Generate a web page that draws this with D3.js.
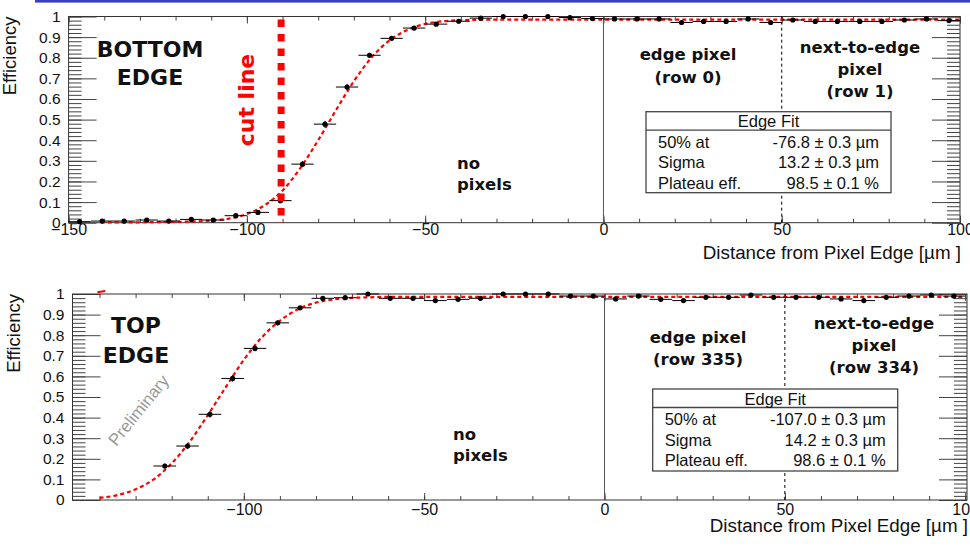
<!DOCTYPE html>
<html>
<head>
<meta charset="utf-8">
<script src="https://cdn.jsdelivr.net/npm/d3@7"></script>
<style>
  body { margin: 0; background: #fff; }
  svg { display: block; }
  text { font-family: "Liberation Sans", Arial, sans-serif; }
  .bold { font-family: "DejaVu Sans", Verdana, sans-serif; font-weight: bold; }
</style>
</head>
<body>
<div id="graph"></div>
<script>
// bin centres (6.25 um bins)
const bins = [-146.9, -140.6, -134.4, -128.1, -121.9, -115.6, -109.4, -103.1, -96.9, -90.6,
  -84.4, -78.1, -71.9, -65.6, -59.4, -53.1, -46.9, -40.6, -34.4, -28.1,
  -21.9, -15.6, -9.4, -3.1, 3.1, 9.4, 15.6, 21.9, 28.1, 34.4,
  40.6, 46.9, 53.1, 59.4, 65.6, 71.9, 78.1, 84.4, 90.6, 96.9];
const binHalf = 3.125;

// bottom edge measurement
const effBottom = [0.005, 0.008, 0.008, 0.013, 0.008, 0.016, 0.013, 0.034, 0.05, 0.107,
  0.284, 0.478, 0.658, 0.812, 0.894, 0.944, 0.963, 0.977, 0.992, 1.0,
  1.0, 1.0, 0.995, 0.99, 0.988, 0.988, 0.988, 0.971, 0.976, 0.976,
  0.988, 0.971, 0.983, 0.976, 0.976, 0.976, 0.976, 0.983, 0.988, 0.98];
const errBottom = [0.004, 0.004, 0.004, 0.004, 0.004, 0.004, 0.004, 0.005, 0.006, 0.01,
  0.015, 0.016, 0.015, 0.012, 0.01, 0.008, 0.006, 0.005, 0.003, 0.003,
  0.003, 0.003, 0.003, 0.003, 0.003, 0.003, 0.003, 0.003, 0.003, 0.003,
  0.003, 0.003, 0.003, 0.003, 0.003, 0.003, 0.003, 0.003, 0.003, 0.003];
const fitBottomX = [-141, -135, -130, -125, -120, -115, -110, -105, -100, -95, -90, -85, -80, -75, -70, -65, -60, -55, -50, -45, -40, -35, -30, -20, 0, 50, 100];
const fitBottomY = [0.002, 0.002, 0.002, 0.003, 0.004, 0.006, 0.011, 0.02, 0.042, 0.085, 0.156, 0.265, 0.4, 0.546, 0.686, 0.802, 0.884, 0.935, 0.964, 0.977, 0.982, 0.984, 0.985, 0.985, 0.985, 0.985, 0.985];

// top edge measurement (starts at bin -121.9)
const binsTop = bins.slice(4);
const effTop = [0.165, 0.262, 0.416, 0.59, 0.736, 0.86, 0.933, 0.979, 0.982, 1.0,
  0.979, 0.979, 0.968, 0.974, 0.979, 1.0, 1.0, 1.0, 0.99, 0.99,
  0.976, 0.99, 0.974, 0.968, 0.984, 0.984, 0.995, 0.984, 0.984, 0.984,
  0.976, 0.968, 0.984, 0.99, 0.995, 0.99];
const errTop = [0.012, 0.014, 0.016, 0.016, 0.014, 0.011, 0.008, 0.005, 0.003, 0.003,
  0.003, 0.003, 0.003, 0.003, 0.003, 0.003, 0.003, 0.003, 0.003, 0.003,
  0.003, 0.003, 0.003, 0.003, 0.003, 0.003, 0.003, 0.003, 0.003, 0.003,
  0.003, 0.003, 0.003, 0.003, 0.003, 0.003];
const fitTopX = [-140, -135, -130, -125, -120, -115, -110, -105, -100, -95, -90, -85, -80, -75, -70, -65, -60, -50, 0, 50, 100];
const fitTopY = [0.01, 0.024, 0.052, 0.1, 0.178, 0.283, 0.412, 0.548, 0.68, 0.79, 0.87, 0.926, 0.958, 0.974, 0.981, 0.984, 0.986, 0.986, 0.986, 0.986, 0.986];
const fitTopStubX = [-140.6, -138.4];
const fitTopStubY = [1.008, 1.015];

const fitLabels = ["50% at", "Sigma", "Plateau eff."];
const fitBottomVals = ["-76.8 \u00b1 0.3 \u00b5m", "13.2 \u00b1 0.3 \u00b5m", "98.5 \u00b1 0.1 %"];
const fitTopVals = ["-107.0 \u00b1 0.3 \u00b5m", "14.2 \u00b1 0.3 \u00b5m", "98.6 \u00b1 0.1 %"];
const cutX = -90.4;

const svg = d3.select("#graph").append("svg").attr("width", 970).attr("height", 548);
svg.append("rect").attr("width", 970).attr("height", 548).attr("fill", "#fff");
svg.append("rect").attr("x", 35).attr("y", 0).attr("width", 935).attr("height", 2.6).attr("fill", "#3b3fc2");

function drawPanel(p) {
  const x = d3.scaleLinear().domain(p.xDomain).range([p.left, p.right]);
  const y = d3.scaleLinear().domain([0, 1]).range([p.bottom, p.top]);
  const g = svg.append("g");

  // ticks (ROOT style, inside frame, mirrored)
  const xMajor = d3.range(-150, 101, 50).filter((v) => v >= p.xDomain[0] && v <= p.xDomain[1]);
  const xMinor = d3.range(-150, 101, 10).filter((v) => v >= p.xDomain[0] && v <= p.xDomain[1]);
  const yMajor = d3.range(0, 1.001, 0.1);
  const yMinor = d3.range(0, 1.001, 0.02);
  const tickStyle = (s) => s.call((a) => a.select(".domain").remove()).selectAll("line").attr("stroke", "#444");

  g.append("g").attr("transform", `translate(0,${p.bottom})`)
    .call(d3.axisBottom(x).tickValues(xMinor).tickSize(-4).tickFormat("")).call(tickStyle);
  g.append("g").attr("transform", `translate(0,${p.bottom})`)
    .call(d3.axisBottom(x).tickValues(xMajor).tickSize(-7).tickPadding(p.xPad).tickFormat(d3.format("d")))
    .call(tickStyle)
    .selectAll("text").attr("font-size", 16).attr("fill", "#111");
  g.append("g").attr("transform", `translate(0,${p.top})`)
    .call(d3.axisTop(x).tickValues(xMinor).tickSize(-4).tickFormat("")).call(tickStyle);
  g.append("g").attr("transform", `translate(0,${p.top})`)
    .call(d3.axisTop(x).tickValues(xMajor).tickSize(-7).tickFormat("")).call(tickStyle);

  g.append("g").attr("transform", `translate(${p.left},0)`)
    .call(d3.axisLeft(y).tickValues(yMinor).tickSize(-13).tickFormat("")).call(tickStyle);
  g.append("g").attr("transform", `translate(${p.left},0)`)
    .call(d3.axisLeft(y).tickValues(yMajor).tickSize(-28).tickPadding(8).tickFormat((d) => (d === 0 || Math.abs(d - 1) < 1e-6 ? d3.format("d")(d) : d3.format(".1f")(d))))
    .call(tickStyle)
    .selectAll("text").attr("font-size", 15.5).attr("fill", "#111");
  g.append("g").attr("transform", `translate(${p.right},0)`)
    .call(d3.axisRight(y).tickValues(yMinor).tickSize(-13).tickFormat("")).call(tickStyle);
  g.append("g").attr("transform", `translate(${p.right},0)`)
    .call(d3.axisRight(y).tickValues(yMajor).tickSize(-28).tickFormat("")).call(tickStyle);

  g.append("rect")
    .attr("x", p.left).attr("y", p.top)
    .attr("width", p.right - p.left).attr("height", p.bottom - p.top)
    .attr("fill", "none").attr("stroke", "#333").attr("stroke-width", 1);

  // axis titles
  g.append("text")
    .attr("transform", `translate(${p.yTitleX},${p.top}) rotate(-90)`)
    .attr("text-anchor", "end").attr("font-size", 18.5).attr("fill", "#111")
    .text("Efficiency");
  g.append("text")
    .attr("x", p.xTitleRight).attr("y", p.xTitleY)
    .attr("text-anchor", "end").attr("font-size", 18.8).attr("fill", "#111")
    .text("Distance from Pixel Edge [\u00b5m ]");

  // pixel boundaries
  g.append("line")
    .attr("x1", x(0)).attr("x2", x(0)).attr("y1", y(0)).attr("y2", y(1))
    .attr("stroke", "#555").attr("stroke-width", 1);
  g.append("line")
    .attr("x1", x(50)).attr("x2", x(50)).attr("y1", y(0)).attr("y2", y(1))
    .attr("stroke", "#000").attr("stroke-width", 1).attr("stroke-dasharray", "3,3");

  // text labels
  const label = (lines, cx, cy, step, size, anchor) => {
    lines.forEach((t, i) => {
      g.append("text").attr("class", "bold")
        .attr("x", cx).attr("y", cy + i * step)
        .attr("text-anchor", anchor || "middle").attr("font-size", size).attr("fill", "#111")
        .text(t);
    });
  };
  label(p.edgeLabel, p.edgeXY[0], p.edgeXY[1], p.edgeStep, 22);
  label(["edge pixel", p.rowA], p.rowAXY[0], p.rowAXY[1], 22.5, 16.5);
  label(["next-to-edge", "pixel", p.rowB], p.rowBXY[0], p.rowBXY[1], 22, 16.5);
  label(["no", "pixels"], p.noXY[0], p.noXY[1], 21, 16.5, "start");

  // fit box
  const b = p.box;
  const box = g.append("g");
  box.append("rect").attr("x", b.x).attr("y", b.y).attr("width", b.w).attr("height", b.h)
    .attr("fill", "#fff").attr("stroke", "#444").attr("stroke-width", 1.3);
  box.append("line").attr("x1", b.x).attr("x2", b.x + b.w).attr("y1", b.y + 18.5).attr("y2", b.y + 18.5)
    .attr("stroke", "#444").attr("stroke-width", 1.3);
  box.append("text").attr("x", b.x + b.w / 2).attr("y", b.y + 15.5)
    .attr("text-anchor", "middle").attr("font-size", 16.5).attr("fill", "#111").text("Edge Fit");
  fitLabels.forEach((t, i) => {
    box.append("text").attr("x", b.x + 12).attr("y", b.y + 36 + i * 20.5)
      .attr("font-size", 16.5).attr("fill", "#111").text(t);
    box.append("text").attr("x", b.x + b.w - 12).attr("y", b.y + 36 + i * 20.5)
      .attr("text-anchor", "end").attr("font-size", 16.5).attr("fill", "#111").text(p.fitVals[i]);
  });

  // fit curve
  const line = d3.line().x((d) => x(d[0])).y((d) => y(d[1])).curve(d3.curveMonotoneX);
  g.append("path")
    .datum(p.fitX.map((v, i) => [v, p.fitY[i]]))
    .attr("d", line)
    .attr("fill", "none").attr("stroke", "#f00").attr("stroke-width", 2.2).attr("stroke-dasharray", "4,3");

  // data points with error bars
  const pts = g.append("g").selectAll("g").data(p.bins.map((v, i) => ({ x: v, y: Math.min(p.eff[i], 1), e: p.err[i] }))).enter().append("g");
  pts.append("line")
    .attr("x1", (d) => x(d.x - binHalf)).attr("x2", (d) => x(d.x + binHalf))
    .attr("y1", (d) => y(d.y)).attr("y2", (d) => y(d.y))
    .attr("stroke", "#000").attr("stroke-width", 1);
  pts.append("line")
    .attr("x1", (d) => x(d.x)).attr("x2", (d) => x(d.x))
    .attr("y1", (d) => y(Math.max(d.y - d.e, 0))).attr("y2", (d) => y(Math.min(d.y + d.e, 1)))
    .attr("stroke", "#000").attr("stroke-width", 1);
  pts.append("circle")
    .attr("cx", (d) => x(d.x)).attr("cy", (d) => y(d.y)).attr("r", 2.6).attr("fill", "#000");

  return { g, x, y };
}

// upper pad: bottom edge
const upper = drawPanel({
  xDomain: [-150, 100], left: 68.6, right: 960, top: 16.5, bottom: 222.7,
  xPad: 1, yTitleX: 16, xTitleRight: 961, xTitleY: 259,
  bins: bins, eff: effBottom, err: errBottom, fitX: fitBottomX, fitY: fitBottomY, fitVals: fitBottomVals,
  edgeLabel: ["BOTTOM", "EDGE"], edgeXY: [150, 56.5], edgeStep: 28,
  rowA: "(row 0)", rowAXY: [688, 60], rowB: "(row 1)", rowBXY: [860, 52.5], noXY: [457, 168.5],
  box: { x: 646, y: 111.7, w: 245, h: 81 },
});
// cut line
upper.g.append("line")
  .attr("x1", upper.x(cutX)).attr("x2", upper.x(cutX)).attr("y1", upper.y(0.985)).attr("y2", upper.y(0))
  .attr("stroke", "#f00").attr("stroke-width", 7).attr("stroke-dasharray", "7.5,7");
upper.g.append("text").attr("class", "bold")
  .attr("transform", "translate(254,100) rotate(-90)")
  .attr("text-anchor", "middle").attr("font-size", 22).attr("fill", "#f00")
  .text("cut line");

// lower pad: top edge
const lower = drawPanel({
  xDomain: [-147.5, 100.5], left: 72.5, right: 967, top: 294, bottom: 500,
  xPad: 4, yTitleX: 20, xTitleRight: 968, xTitleY: 532,
  bins: binsTop, eff: effTop, err: errTop, fitX: fitTopX, fitY: fitTopY, fitVals: fitTopVals,
  edgeLabel: ["TOP", "EDGE"], edgeXY: [136, 333], edgeStep: 30,
  rowA: "(row 335)", rowAXY: [698, 342.5], rowB: "(row 334)", rowBXY: [874, 329], noXY: [453, 440],
  box: { x: 652.7, y: 389, w: 245, h: 82 },
});
lower.g.append("path")
  .datum(fitTopStubX.map((v, i) => [v, fitTopStubY[i]]))
  .attr("d", d3.line().x((d) => lower.x(d[0])).y((d) => lower.y(d[1])))
  .attr("stroke", "#f00").attr("stroke-width", 2);
lower.g.append("text")
  .attr("transform", "translate(143,414) rotate(-51)")
  .attr("text-anchor", "middle").attr("font-size", 17).attr("fill", "#999")
  .text("Preliminary");
</script>
</body>
</html>
